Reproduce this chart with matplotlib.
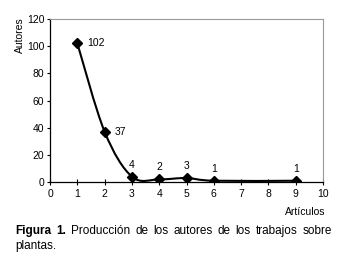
import numpy as np
import matplotlib
matplotlib.use("Agg")
import matplotlib.pyplot as plt
from matplotlib.path import Path
from matplotlib.patches import PathPatch

plt.rcParams['font.family'] = ['Liberation Sans', 'DejaVu Sans']

# Data
articulos = [1, 2, 3, 4, 5, 6, 9]
autores = [102, 37, 4, 2, 3, 1, 1]
label_side = ['right', 'right', 'top', 'top', 'top', 'top', 'top']

fig = plt.figure(figsize=(3.5, 2.67), dpi=100)
ax = fig.add_axes([0.143, 0.318, 0.78, 0.611])

# smoothed line (Excel-like cardinal spline through the points)
pts = np.column_stack([articulos, autores]).astype(float)
verts = [pts[0]]
codes = [Path.MOVETO]
t = 1 / 6
for i in range(len(pts) - 1):
    p0 = pts[i - 1] if i > 0 else pts[i]
    p1, p2 = pts[i], pts[i + 1]
    p3 = pts[i + 2] if i + 2 < len(pts) else pts[i + 1]
    verts += [p1 + (p2 - p0) * t, p2 - (p3 - p1) * t, p2]
    codes += [Path.CURVE4] * 3
ax.add_patch(PathPatch(Path(verts, codes), fill=False, lw=1.5, ec='black'))
ax.plot(articulos, autores, ls='none', marker='D', ms=5.5, color='black')

for x, y, side in zip(articulos, autores, label_side):
    if side == 'right':
        ax.annotate(str(y), (x, y), xytext=(7, 0), textcoords='offset points',
                    ha='left', va='center', fontsize=7.5)
    else:
        ax.annotate(str(y), (x, y), xytext=(0, 5), textcoords='offset points',
                    ha='center', va='bottom', fontsize=7.5)

ax.set_xlim(0, 10)
ax.set_ylim(0, 120)
ax.set_xticks(range(0, 11))
ax.set_yticks(range(0, 121, 20))
ax.tick_params(axis='both', labelsize=7.5, length=2.5, width=0.8, pad=1.5)
ax.tick_params(axis='x', direction='inout', length=4, pad=3)
for s in ['top', 'right']:
    ax.spines[s].set_color('#999999')
for s in ['left', 'bottom']:
    ax.spines[s].set_linewidth(0.9)

fig.text(0.929, 0.205, 'Artículos', fontsize=7.5, ha='right', va='center')
fig.text(0.057, 0.935, 'Autores', fontsize=7.5, rotation=90, ha='center', va='top')

# caption, first line justified
y1, y2 = 1 - 231 / 267, 1 - 246 / 267
x0, x1 = 15 / 350, 332 / 350
fig.canvas.draw()
r = fig.canvas.get_renderer()
words = [('Figura', 'bold'), ('1.', 'bold'), ('Producción', 'normal'), ('de', 'normal'),
         ('los', 'normal'), ('autores', 'normal'), ('de', 'normal'), ('los', 'normal'),
         ('trabajos', 'normal'), ('sobre', 'normal')]
texts = [fig.text(0, y1, w, fontsize=8.5, weight=wt, va='center') for w, wt in words]
widths = [tx.get_window_extent(r).width / fig.bbox.width for tx in texts]
gap = (x1 - x0 - sum(widths)) / (len(words) - 1)
pos = x0
for tx, w in zip(texts, widths):
    tx.set_x(pos)
    pos += w + gap
fig.text(x0, y2, 'plantas.', fontsize=8.5, va='center')

fig.savefig('out.png', dpi=100)
